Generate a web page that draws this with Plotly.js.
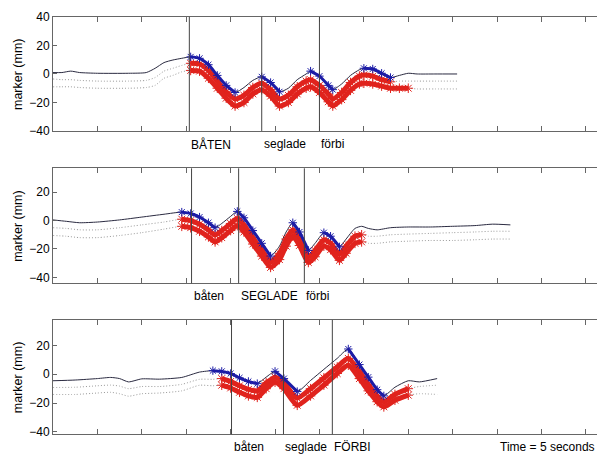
<!DOCTYPE html>
<html>
<head>
<meta charset="utf-8">
<script src="https://cdn.plot.ly/plotly-3.0.1.min.js"></script>
<style>html,body{margin:0;padding:0;background:#fff;}#chart{width:597px;height:454px;}</style>
</head>
<body>
<div id="chart"></div>
<script>
// ---------- Panel 1 (top) ----------
const T1 = [0,2,4,6,10,17,21,23,25,27,29,31,33,35,37,39,41,43,45,47,49,51,53,55,57,58,60,62,63,65,67,69,70,72,74,76,78,80,82,86,91];
const BLACK1 = [1,1,2,1,0.5, 0.5,1,4,8,9.8, 11,12,11,6.5,-1, -8,-13,-9.5,-4.5,-2, -6,-12.5,-10,-4,0, 2,-1.5,-8,-11,-7, -1,3,4,3.5,0.5, -2.5,-1,0.5,0,0, 0];
const DOTA1 = [-3.5,-4,-4,-4.5,-5, -5,-4.5,-2.5,2,4, 6,7.5,7,2.5,-5, -12.5,-17.5,-15,-9.5,-6.5, -11,-17.5,-15,-9,-5, -4,-8,-14,-17.5,-13, -6,-1.5,-0.7,-1.5,-4, -5.5,-5,-5,-5,-5, -5];
const DOTB1 = [-9,-9,-9,-9.5,-10, -10,-9.5,-8,-3,-1, 1.5,2.5,2,-3,-10, -17,-22.5,-20,-14,-11, -15.5,-22.5,-20,-14,-10, -9,-13,-19.5,-22.5,-18, -11.5,-7,-6.5,-7,-8.5, -10,-10,-10,-10.5,-10.5, -10.5];
const BLUE_SEGS1 = [[31,41],[47,51],[58,63],[70,76]];
const RED_SPAN_A1 = [31,76];
const RED_SPAN_B1 = [31,80];
const EVENTS1 = [30.7, 47.0, 60.0];
const LABELS1 = ['BÅTEN','seglade','förbi'];

// ---------- Panel 2 (middle) ----------
const T2 = [0,3,6,10,15,20,25,29,31,33,35,36.5,38,40,41.5,43,45,47,49,51,52.5,54,55.5,57.5,59,61,62.5,64.5,66,68,69.5,71,73,76,80,85,90,95,99,103];
const BLACK2 = [0.5,-0.5,-1.5,-1,0.5, 2.5,4.5,6,5,2.5, -1.5,-5,-2,3,6.5, 2,-7,-16,-25,-18, -8,-1.5,-8,-21,-16, -8.5,-11,-18.5,-13,-5.5, -4,-5.5,-6.5,-5,-4.5, -4.5,-4,-3.5,-2.5,-3];
const DOTA2 = [-5,-5.5,-6.5,-6.5,-5, -3,-1,1,0,-2.5, -6.5,-10,-7,-2,1.5, -3,-12,-20.5,-29,-23, -13,-6.5,-13,-25.5,-21, -13.5,-16,-23.5,-18,-11, -10,-11,-11,-10,-9.5, -9,-8.5,-8,-7.5,-7.5];
const DOTB2 = [-10.5,-11,-12,-12,-10.5, -8.5,-6,-4,-5,-7.5, -11.5,-15,-12,-7,-3.5, -8,-16.5,-25,-33,-27.5, -18,-11,-17.5,-29.5,-25.5, -18,-20.5,-28,-23,-16, -15,-16,-16,-15,-14.5, -14,-14,-13.5,-13,-13];
const BLUE_SEGS2 = [[29,36.5],[41.5,49],[54,57.5],[61,64.5]];
const RED_SPAN_A2 = [29,69.5];
const RED_SPAN_B2 = [29,69.5];
const EVENTS2 = [31.2, 41.8, 56.6];
const LABELS2 = ['båten','SEGLADE','förbi'];

// ---------- Panel 3 (bottom) ----------
const T3 = [0,5,10,13,15,17,20,24,29,33,36,38,40,42,44,46,48,50,52,55,58,61,64,66.5,69,71,73,74.5,77,80,82.5,86.5];
const BLACK3 = [-4.5,-4,-3,-2.2,-3, -5.3,-3.2,-3.4,-2.2,1.5, 2.5,2,0.5,-2.5,-5, -6.5,-2,2,-3,-12, -4.3,3.4,11,17.5,6.7, -2,-10.7,-15,-9,-4.5, -5.3,-3];
const DOTA3 = [-9.2,-9,-8,-7.5,-8.2, -10,-8.5,-8.5,-7,-3.5, -3.5,-3,-5,-8,-10.5, -11.5,-6,-2,-6,-16.5, -10,-2.5,5,11,2, -7,-15,-19,-14,-10, -8.5,-7.6];
const DOTB3 = [-14,-14,-13,-12.5,-13.5, -15.2,-13.5,-13,-11.5,-7.6, -8,-7.6,-9.5,-12.5,-15, -16,-10,-5.5,-10,-21.5, -15,-7.5,0.5,6.3,-3, -11.5,-19,-22.6,-18,-14.5, -13.5,-14];
const BLUE_SEGS3 = [[36,46],[50,55],[66.5,74.5]];
const RED_SPAN_A3 = [38,80];
const RED_SPAN_B3 = [38,80];
const EVENTS3 = [40.2, 51.9, 62.9];
const LABELS3 = ['båten','seglade','FÖRBI'];

const Y_TITLE = 'marker (mm)';
const TIME_TEXT = 'Time = 5 seconds';
const TIME_TEXT_X = 100.2;

// ---------- styling ----------
const FONT = 'Liberation Sans, Arial, sans-serif';
const BLACK_COL = '#2a2a40';
const DOT_COL = '#9a9a9a';
const BLUE_COL = '#1c1ca6';
const RED_COL = '#e0231d';
const AXIS_COL = '#666666';

const panels = [
  {t:T1, k:BLACK1, a:DOTA1, b:DOTB1, blue:BLUE_SEGS1, ra:RED_SPAN_A1, rb:RED_SPAN_B1, ev:EVENTS1, lab:LABELS1, yr:[-40,40], dom:[0.7115,0.9626]},
  {t:T2, k:BLACK2, a:DOTA2, b:DOTB2, blue:BLUE_SEGS2, ra:RED_SPAN_A2, rb:RED_SPAN_B2, ev:EVENTS2, lab:LABELS2, yr:[-44.2,36.9], dom:[0.376,0.6293]},
  {t:T3, k:BLACK3, a:DOTA3, b:DOTB3, blue:BLUE_SEGS3, ra:RED_SPAN_A3, rb:RED_SPAN_B3, ev:EVENTS3, lab:LABELS3, yr:[-41.6,37.6], dom:[0.0434,0.2952]}
];

function inSegs(t, segs){ return segs.some(s => t >= s[0] && t <= s[1]); }
function maskY(ts, ys, segs){ return ys.map((v,i) => inSegs(ts[i], segs) ? v : null); }

const traces = [];
const shapes = [];
const annotations = [];
const layout = {
  width: 597, height: 454,
  margin: {l:53, r:0, t:0, b:0},
  paper_bgcolor: '#ffffff', plot_bgcolor: '#ffffff',
  showlegend: false,
  font: {family: FONT, size: 12, color: '#000'}
};

panels.forEach((p, i) => {
  const n = i === 0 ? '' : String(i+1);
  const xa = 'x' + n, ya = 'y' + n;
  traces.push({x:p.t, y:p.a, xaxis:xa, yaxis:ya, mode:'lines', line:{color:DOT_COL, width:1, dash:'1px,2px', shape:'spline', smoothing:0.6}, hoverinfo:'skip'});
  traces.push({x:p.t, y:p.b, xaxis:xa, yaxis:ya, mode:'lines', line:{color:DOT_COL, width:1, dash:'1px,2px', shape:'spline', smoothing:0.6}, hoverinfo:'skip'});
  traces.push({x:p.t, y:p.k, xaxis:xa, yaxis:ya, mode:'lines', line:{color:BLACK_COL, width:1, shape:'spline', smoothing:0.6}, hoverinfo:'skip'});
  [[p.a, p.ra],[p.b, p.rb]].forEach(([ys, span]) => {
    traces.push({x:p.t, y:maskY(p.t, ys, [span]), xaxis:xa, yaxis:ya, mode:'lines+markers',
      line:{color:RED_COL, width:5, shape:'spline', smoothing:0.6},
      marker:{symbol:'asterisk-open', size:8, color:RED_COL, line:{color:'#c01010', width:1}},
      hoverinfo:'skip'});
  });
  traces.push({x:p.t, y:maskY(p.t, p.k, p.blue), xaxis:xa, yaxis:ya, mode:'lines+markers',
    line:{color:BLUE_COL, width:3, shape:'spline', smoothing:0.6},
    marker:{symbol:'asterisk-open', size:7, color:BLUE_COL, line:{color:BLUE_COL, width:1}},
    hoverinfo:'skip'});

  layout['xaxis' + n] = {
    domain:[0,1], anchor:ya, range:[0,122.5], tick0:0, dtick:10,
    ticks:'inside', ticklen:5, tickcolor:AXIS_COL, showline:true, linecolor:AXIS_COL, linewidth:1,
    mirror:'ticks', showticklabels:false, showgrid:false, zeroline:false
  };
  layout['yaxis' + n] = {
    domain:p.dom, anchor:xa, range:p.yr, tick0:0, dtick:20,
    ticks:'inside', ticklen:4, tickcolor:AXIS_COL, showline:true, linecolor:AXIS_COL, linewidth:1,
    mirror:false, showgrid:false, zeroline:false,
    tickfont:{family:FONT, size:12, color:'#000'}
  };
  annotations.push({xref:'paper', yref:ya + ' domain', x:-0.0643, y:0.5, xanchor:'center', yanchor:'middle',
    textangle:-90, text:Y_TITLE, showarrow:false, font:{family:FONT, size:12.5, color:'#000'}});
  p.ev.forEach((e, j) => {
    shapes.push({type:'line', xref:xa, yref:ya + ' domain', x0:e, x1:e, y0:0, y1:1, line:{color:'#444', width:1}});
    annotations.push({xref:xa, yref:ya + ' domain', x:e, y:0, xanchor:'left', yanchor:'top', yshift:-4,
      text:p.lab[j], showarrow:false, font:{family:FONT, size:12, color:'#000'}});
  });
});

annotations.push({xref:'x3', yref:'y3 domain', x:TIME_TEXT_X, y:0, xanchor:'left', yanchor:'top', yshift:-4,
  text:TIME_TEXT, showarrow:false, font:{family:FONT, size:12, color:'#000'}});

layout.shapes = shapes;
layout.annotations = annotations;

Plotly.newPlot('chart', traces, layout, {staticPlot:true, displayModeBar:false});
</script>
</body>
</html>
